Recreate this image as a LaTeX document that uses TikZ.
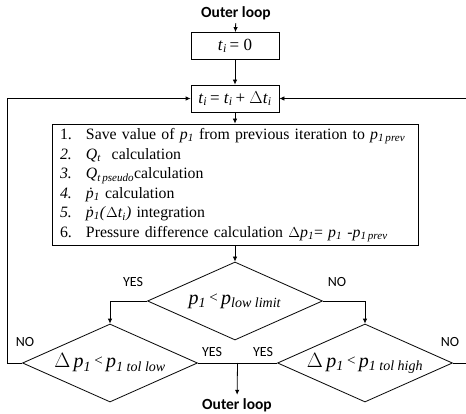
\documentclass[tikz,border=0pt]{standalone}
\usepackage{fontspec}
\setmainfont{Liberation Serif}
\newfontfamily\lblfont{Carlito}
\usetikzlibrary{arrows.meta,positioning,shapes.geometric}
\newcommand{\pp}{\textit{p}}
\newcommand{\ppdot}{\textit{ṗ}}
\newcommand{\lsub}[1]{\textsubscript{\textit{#1}}}
\newcommand{\smlt}{\,{\fontsize{15}{18}\selectfont\raisebox{2pt}{<}}\,}
\tikzset{
  procbox/.style={rectangle, draw=black, line width=0.8pt,
                  minimum width=88pt, minimum height=27pt, inner sep=0pt,
                  font=\fontsize{17}{20}\selectfont},
  decbox/.style={diamond, draw=black, line width=0.8pt,
                 minimum width=175pt, minimum height=78pt, inner sep=0pt,
                 label={[font=\fontsize{20}{24}\selectfont]center:#1}},
  yn/.style={font=\lblfont\fontsize{14}{16}\selectfont},
  loopname/.style={font=\lblfont\bfseries\fontsize{15.5}{18}\selectfont},
  arr/.style={-{Latex[length=5pt,width=4.5pt]}, line width=0.8pt, draw=black},
  ln/.style={line width=0.8pt, draw=black},
}

\begin{document}
\begin{tikzpicture}[x=1pt, y=-1pt]
  \useasboundingbox (0,0) rectangle (466,414);
  % start and time step
  \node[loopname] (outtop) at (236,13) {Outer loop};
  \node[procbox] (tzero) at (235,46) {\textit{t}\lsub{i}\,= 0};
  \node[procbox] (tstep) at (235,98.5) {\textit{t}\lsub{i}\,= \textit{t}\lsub{i}\,+ $\Delta$\textit{t}\lsub{i}};
  % calculation steps
  \node[rectangle, draw=black, line width=0.8pt, minimum width=366pt, minimum height=121pt,
        inner xsep=8pt, inner ysep=0pt, text width=350pt, align=left,
        font=\fontsize{15.8}{19.5}\selectfont]
    (calc) at (235,184.5) {%
    \begin{tabular}{@{}p{26pt}@{}l@{}}
      1. & Save value of \pp\lsub{1} from previous iteration to \pp\lsub{1\,prev}\\
      \textit{2.} & \textit{Q}\lsub{t}\ \ calculation\\
      \textit{3.} & \textit{Q}\lsub{t\,pseudo}calculation\\
      \textit{4.} & \ppdot\lsub{1} calculation\\
      \textit{5.} & \ppdot\lsub{1}\textit{(}$\Delta$\textit{t}\lsub{i}\textit{)} integration\\
      6. & Pressure difference calculation $\Delta$\pp\lsub{1}= \pp\lsub{1} -\pp\lsub{1\,prev}
    \end{tabular}};
  % decisions
  \node[decbox={\pp\lsub{1}\smlt\pp\lsub{low limit}}] (dlim) at (235,301) {};
  \node[decbox={$\Delta$\,\pp\lsub{1}\smlt\pp\lsub{1 tol low}}] (dlow) at (110,363) {};
  \node[decbox={$\Delta$\,\pp\lsub{1}\smlt\pp\lsub{1 tol high}}] (dhigh) at (365,363) {};
  \node[loopname] (outbot) at (237,405) {Outer loop};
  \coordinate (mid) at (237.5,363);
  \coordinate (lftlo) at (7,363);
  \coordinate (lfthi) at (7,98.5);
  \coordinate (rgtlo) at (467,363);
  \coordinate (rgthi) at (467,98.5);
  % connectors
  \draw[arr] (outtop) -- (tzero);
  \draw[arr] (tzero) -- (tstep);
  \draw[arr] (tstep) -- (calc);
  \draw[arr] (calc) -- (dlim);
  \draw[arr] (dlim.west) -| (dlow.north);
  \draw[arr] (dlim.east) -| (dhigh.north);
  \draw[ln] (dlow.east) -- (dhigh.west);
  \draw[arr] (mid) -- (outbot);
  \draw[arr] (dlow.west) -- (lftlo) -- (lfthi) -- (tstep.west);
  \draw[arr] (dhigh.east) -- (rgtlo) -- (rgthi) -- (tstep.east);
  % labels
  \node[yn] (ylim) at (133,282) {YES};
  \node[yn] (nlim) at (337,282) {NO};
  \node[yn] (nlow) at (25,342) {NO};
  \node[yn] (ylow) at (212,352) {YES};
  \node[yn] (yhigh) at (263,352) {YES};
  \node[yn] (nhigh) at (450,342) {NO};
\end{tikzpicture}
\end{document}
